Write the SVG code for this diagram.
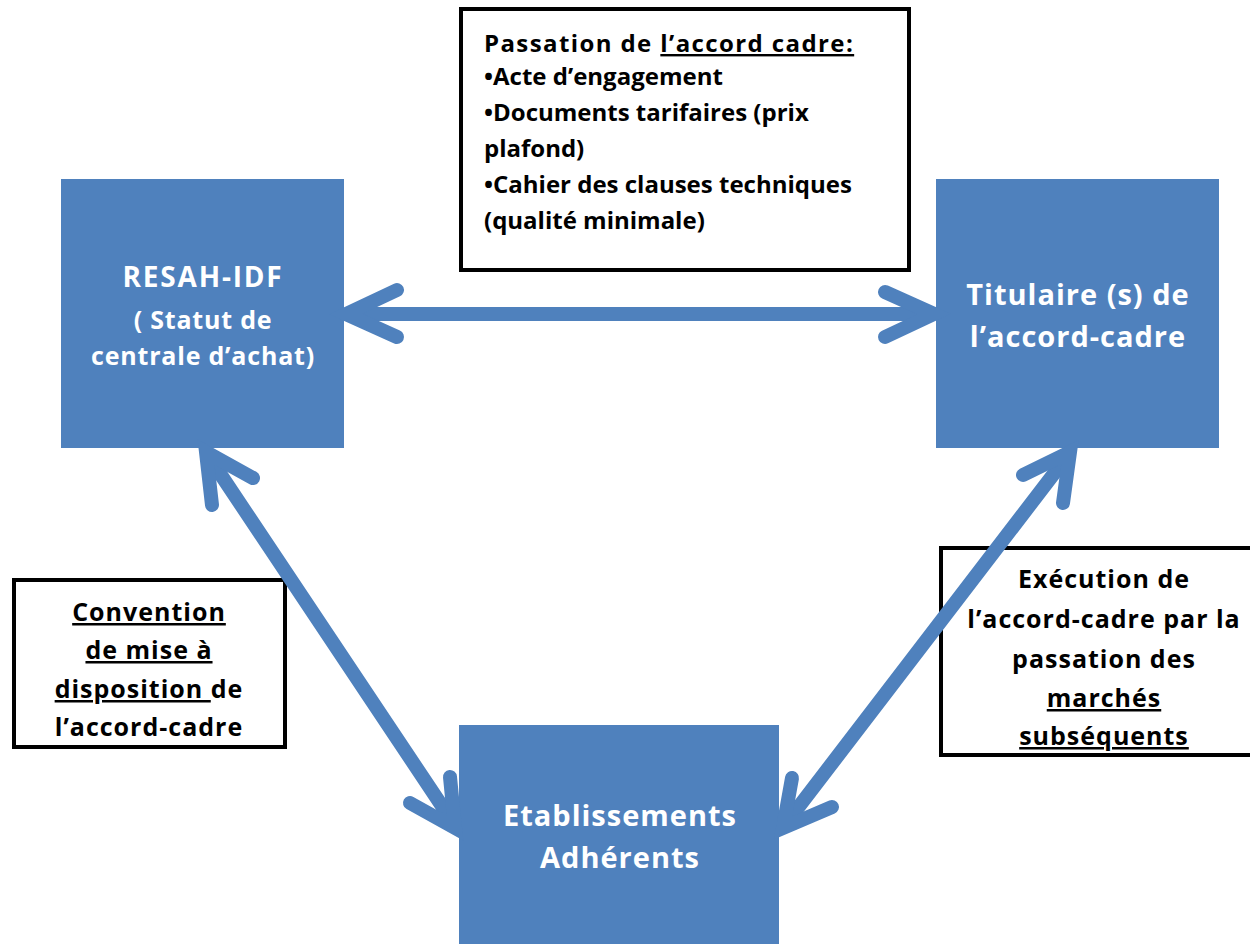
<svg xmlns="http://www.w3.org/2000/svg" width="1250" height="944" viewBox="0 0 1250 944">
<style>
.node{fill:#4F81BD}
.wt{fill:#fff;font-family:"Open Sans","Noto Sans",sans-serif;font-weight:bold;text-anchor:middle}
.box{fill:#fff;stroke:#000;stroke-width:4}
.bt{fill:#000;font-family:"Open Sans","Noto Sans",sans-serif;font-weight:bold;font-size:25px;letter-spacing:1px}
.tl{fill:#000;font-family:"Open Sans","Noto Sans",sans-serif;font-weight:bold;font-size:24px}
.u{text-decoration:underline}
.c{stroke:#4F81BD;stroke-width:14;fill:none;stroke-linecap:round;stroke-linejoin:miter}
</style>
<rect width="1250" height="944" fill="#fff"/>
<g id="resah">
<rect class="node" x="61" y="179" width="283" height="269"/>
<text class="wt" font-size="28" letter-spacing="1.8" x="203" y="287">RESAH-IDF</text>
<text class="wt" font-size="25" letter-spacing="0.8" x="203" y="329">( Statut de</text>
<text class="wt" font-size="25" letter-spacing="0.8" x="203" y="365">centrale d’achat)</text>
</g>
<g id="titulaire">
<rect class="node" x="936" y="179" width="283" height="269"/>
<text class="wt" font-size="29" letter-spacing="1" x="1078" y="305">Titulaire (s) de</text>
<text class="wt" font-size="29" letter-spacing="1" x="1078" y="347">l’accord-cadre</text>
</g>
<g id="etablissements">
<rect class="node" x="459" y="725" width="320" height="225"/>
<text class="wt" font-size="29" letter-spacing="1" x="620" y="826">Etablissements</text>
<text class="wt" font-size="29" letter-spacing="1" x="620" y="868">Adhérents</text>
</g>
<g id="passation">
<rect class="box" x="461" y="9" width="448" height="261"/>
<text class="tl" letter-spacing="1.4" x="484" y="52">Passation de <tspan class="u">l’accord cadre:</tspan></text>
<text class="tl" x="484" y="85">•Acte d’engagement</text>
<text class="tl" x="484" y="121">•Documents tarifaires (prix</text>
<text class="tl" x="484" y="157">plafond)</text>
<text class="tl" x="484" y="193">•Cahier des clauses techniques</text>
<text class="tl" x="484" y="229">(qualité minimale)</text>
</g>
<g id="execution">
<rect class="box" x="941" y="548" width="315" height="207"/>
<text class="bt" text-anchor="middle" x="1104" y="588">Exécution de</text>
<text class="bt" text-anchor="middle" x="1104" y="628">l’accord-cadre par la</text>
<text class="bt" text-anchor="middle" x="1104" y="668">passation des</text>
<text class="bt" text-anchor="middle" x="1104" y="707"><tspan class="u">marchés</tspan></text>
<text class="bt" text-anchor="middle" x="1104" y="745"><tspan class="u">subséquents</tspan></text>
</g>
<g id="convention">
<rect class="box" x="14" y="580" width="271" height="167"/>
<text class="bt" text-anchor="middle" x="149" y="621"><tspan class="u">Convention</tspan></text>
<text class="bt" text-anchor="middle" x="149" y="659"><tspan class="u">de mise à</tspan></text>
<text class="bt" text-anchor="middle" x="149" y="698"><tspan class="u">disposition </tspan>de</text>
<text class="bt" text-anchor="middle" x="149" y="736">l’accord-cadre</text>
</g>
<g id="connectors">
<line class="c" x1="350" y1="314" x2="930" y2="314" stroke-linecap="butt"/>
<polyline class="c" points="397,290 346,314 397,337"/>
<polyline class="c" points="885,292 934,314 885,337"/>
<line class="c" x1="207" y1="454" x2="454" y2="824" stroke-linecap="butt"/>
<polyline class="c" points="253,478 206,452 212,505"/>
<polyline class="c" points="450,777 455,828 410,803"/>
<line class="c" x1="1069" y1="454" x2="784" y2="826" stroke-linecap="butt"/>
<polyline class="c" points="1023,475 1070,452 1063,503"/>
<polyline class="c" points="792,778 783,828 832,807"/>
</g>
</svg>
